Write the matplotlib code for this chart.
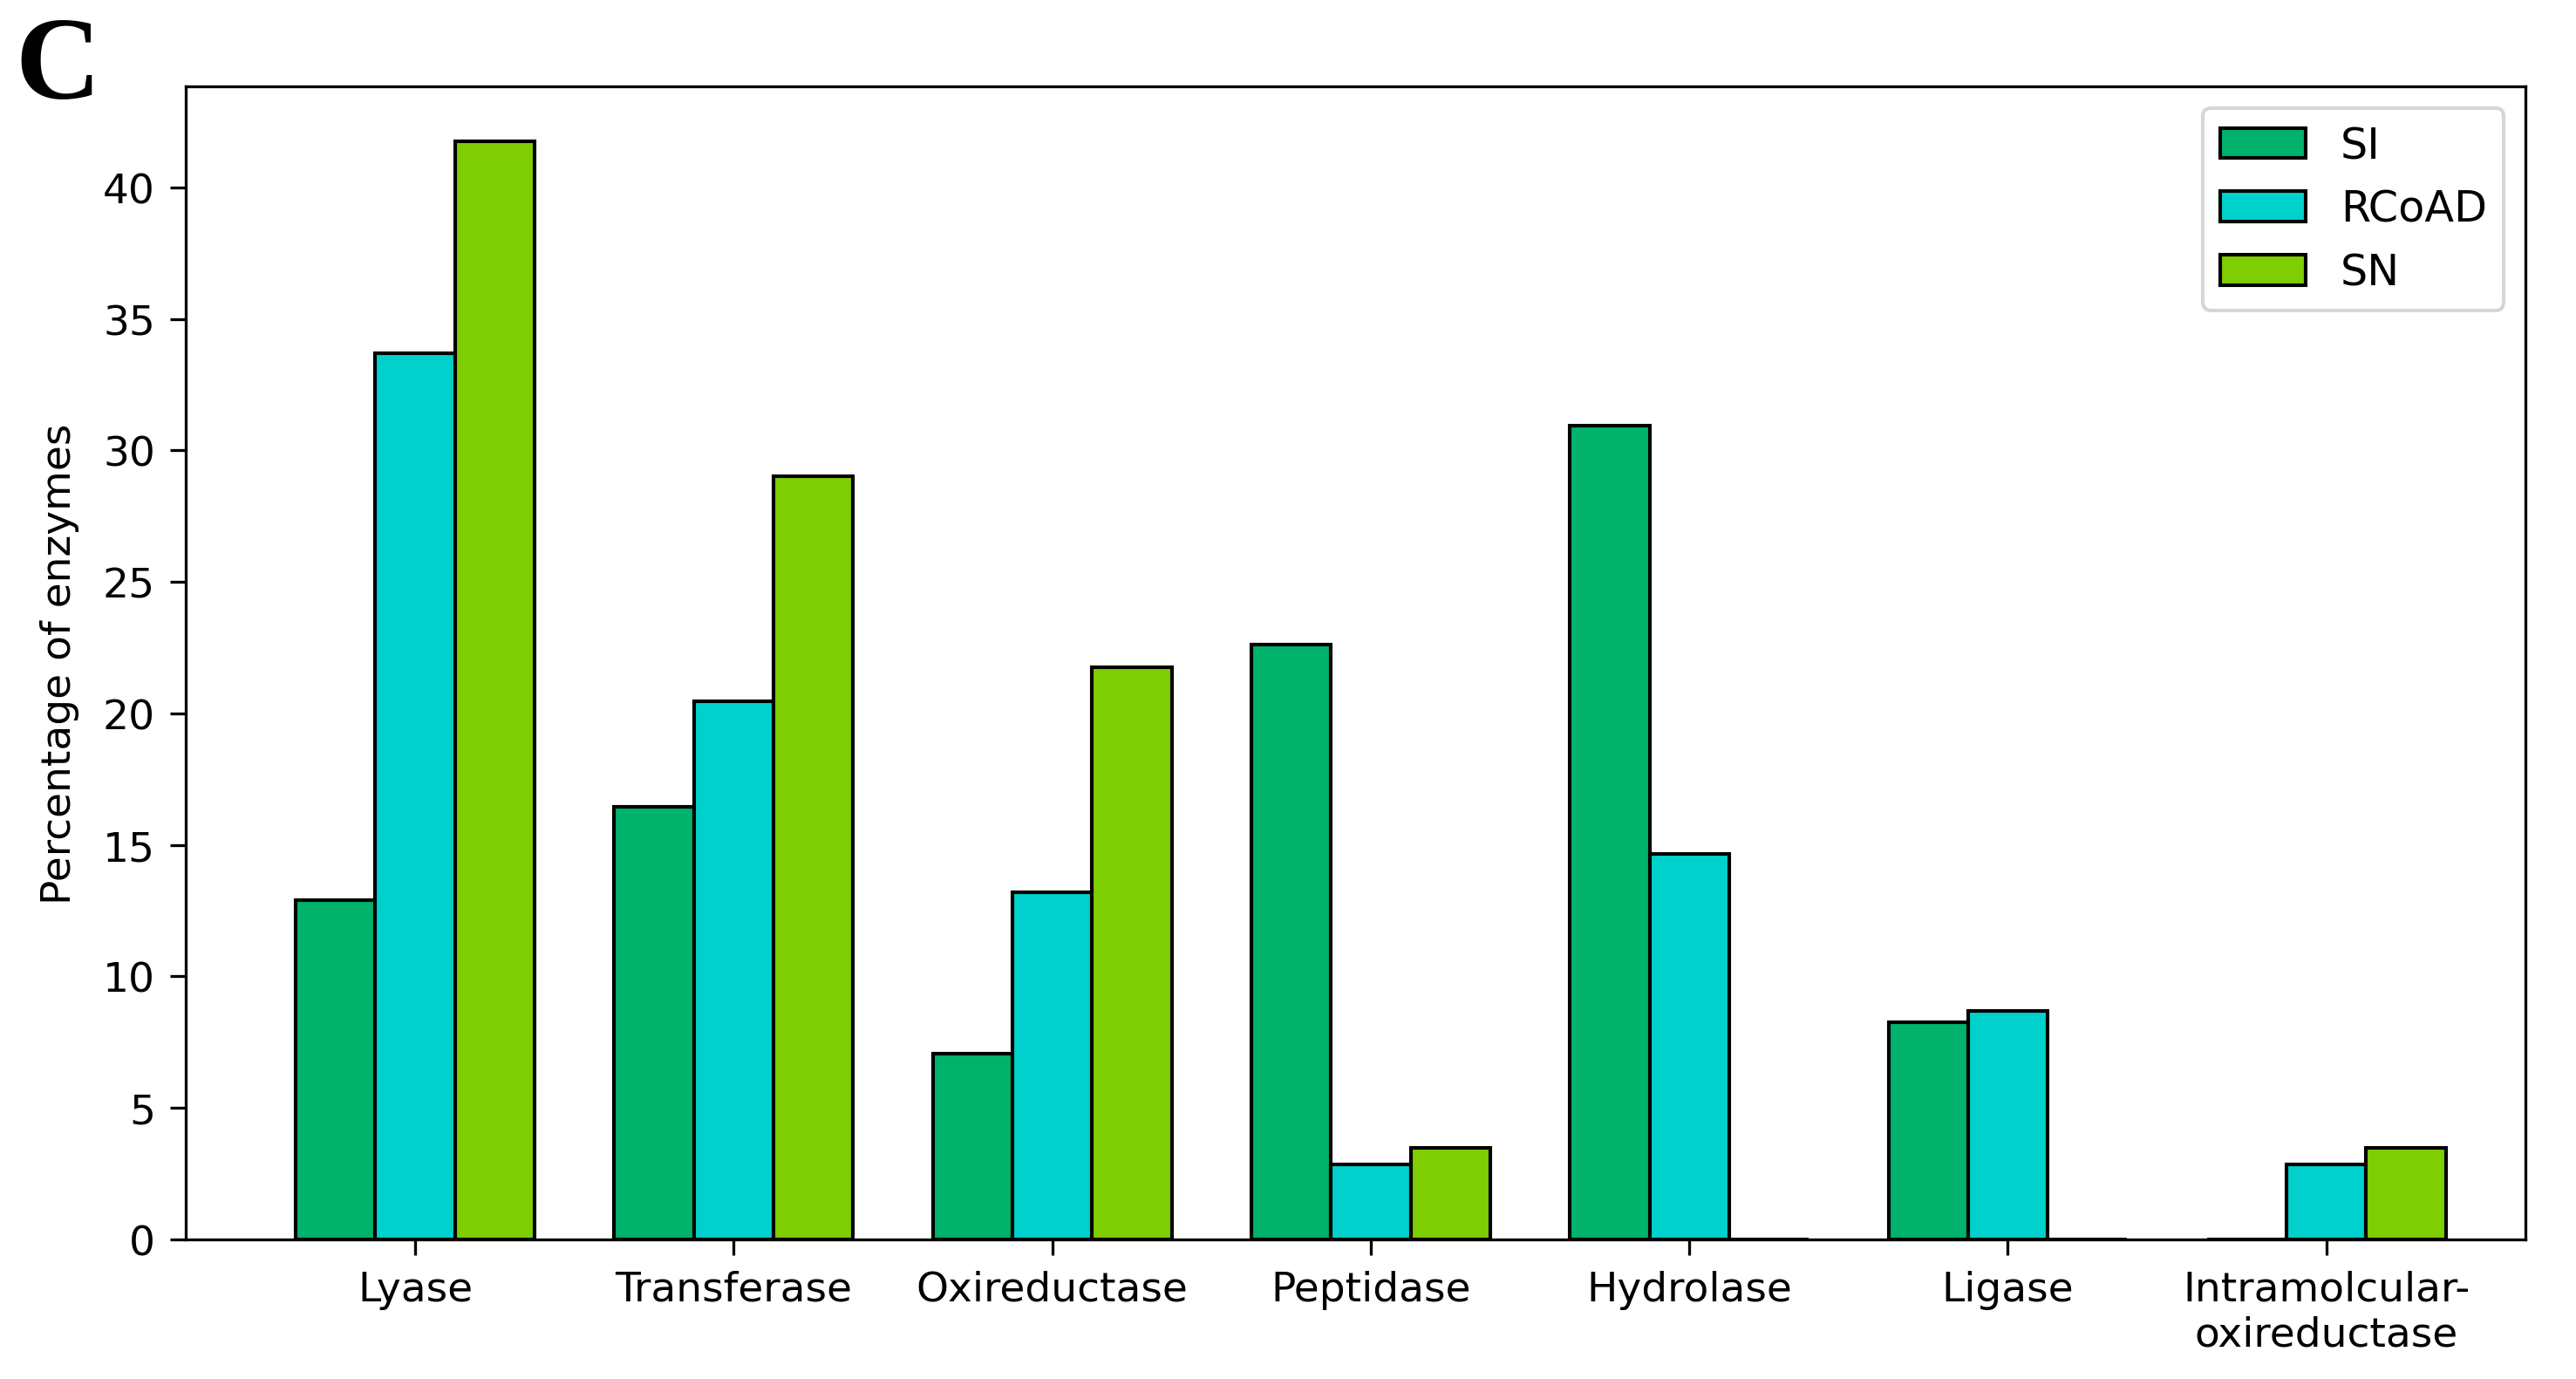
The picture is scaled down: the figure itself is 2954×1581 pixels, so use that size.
import numpy as np
import matplotlib
matplotlib.use("Agg")
import matplotlib.pyplot as plt

categories = ["Lyase", "Transferase", "Oxireductase", "Peptidase",
              "Hydrolase", "Ligase", "Intramolcular-\noxireductase"]
si = [12.9, 16.45, 7.05, 22.6, 30.95, 8.25, 0]
rcoad = [33.7, 20.45, 13.2, 2.85, 14.65, 8.7, 2.85]
sn = [41.75, 29.0, 21.75, 3.5, 0, 0, 3.5]

colors = ["#00b26b", "#00d1cc", "#7fcd03"]
width = 0.25

plt.rcParams['font.size'] = 11.5

fig = plt.figure(figsize=(10, 1582 / 2954 * 10), dpi=295.4)
ax = fig.add_axes([0.0721, 0.1011, 0.9083, 0.8357])

x = np.arange(len(categories))
ax.bar(x - width, si, width, color=colors[0], edgecolor="black", linewidth=1, label="SI")
ax.bar(x, rcoad, width, color=colors[1], edgecolor="black", linewidth=1, label="RCoAD")
ax.bar(x + width, sn, width, color=colors[2], edgecolor="black", linewidth=1, label="SN")

ax.set_xlim(-0.72, 6.625)
ax.set_xticks(x)
ax.set_xticklabels(categories)
ax.tick_params(length=4.5, pad=4)
ax.set_ylabel("Percentage of enzymes", labelpad=6.5)
ax.legend(loc="upper right", fontsize=12)

fig.text(0.006, 0.9285, "C", family="Liberation Serif", fontweight="bold",
         fontsize=33, va="baseline", ha="left")

fig.savefig("out.png", dpi=295.4)
